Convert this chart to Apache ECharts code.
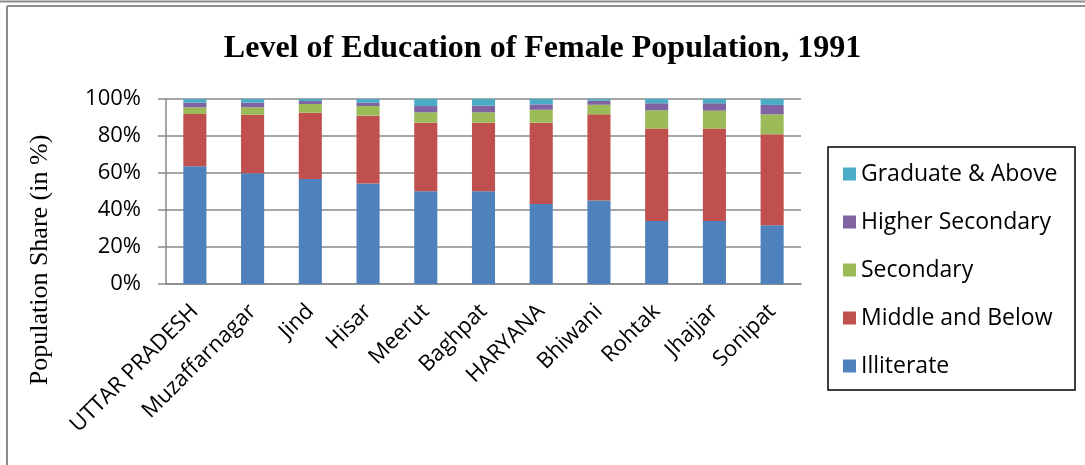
<!DOCTYPE html>
<html>
<head>
<meta charset="utf-8">
<script src="https://cdn.jsdelivr.net/npm/echarts@6/dist/echarts.min.js"></script>
<style>
  html, body { margin: 0; padding: 0; background: #fff; }
  #chart { width: 1085px; height: 465px; }
</style>
</head>
<body>
<div id="chart"></div>
<script>
const districts = ['UTTAR PRADESH', 'Muzaffarnagar', 'Jind', 'Hisar', 'Meerut', 'Baghpat', 'HARYANA', 'Bhiwani', 'Rohtak', 'Jhajjar', 'Sonipat'];
const illiterate = [63.7, 59.9, 56.7, 54.3, 50.2, 50.2, 43.3, 45.1, 34.0, 34.0, 31.8];
const middleBelow = [28.2, 31.6, 35.9, 36.7, 37.0, 37.0, 43.9, 46.6, 50.0, 50.0, 49.1];
const secondary = [3.6, 4.0, 4.7, 5.2, 5.6, 5.6, 7.0, 5.2, 9.9, 9.7, 10.8];
const higherSecondary = [2.5, 2.5, 1.6, 1.8, 3.4, 3.6, 2.9, 2.2, 3.8, 4.0, 5.1];
const graduate = [2.0, 2.0, 1.1, 2.0, 3.8, 3.6, 2.9, 0.9, 2.3, 2.3, 3.2];
const yTicks = [0, 20, 40, 60, 80, 100];

const chart = echarts.init(document.getElementById('chart'));

const mkSeries = (name, data, color) => ({
  name: name,
  type: 'bar',
  stack: 'total',
  data: data,
  barWidth: '40%',
  itemStyle: { color: color }
});

chart.setOption({
  animation: false,
  title: {
    text: 'Level of Education of Female Population, 1991',
    left: 'center',
    top: 28,
    textStyle: { fontFamily: 'Liberation Serif', fontWeight: 'bold', fontSize: 32, color: '#000' }
  },
  grid: { left: 166, right: 284, top: 99, bottom: 181 },
  legend: {
    orient: 'vertical',
    left: 828,
    top: 147,
    padding: [14, 15, 13, 15],
    itemWidth: 13,
    itemHeight: 13,
    itemGap: 22,
    icon: 'rect',
    data: ['Graduate & Above', 'Higher Secondary', 'Secondary', 'Middle and Below', 'Illiterate'],
    textStyle: { fontFamily: 'Open Sans', fontSize: 23, color: '#000', lineHeight: 26 }
  },
  xAxis: {
    type: 'category',
    data: districts,
    axisLine: { lineStyle: { color: '#888', width: 1.5 } },
    axisTick: { length: 8, lineStyle: { color: '#888', width: 1.5 } },
    axisLabel: { rotate: 45, margin: 24, fontFamily: 'Open Sans', fontSize: 22, color: '#000' }
  },
  yAxis: {
    type: 'value',
    min: yTicks[0],
    max: yTicks[yTicks.length - 1],
    interval: 20,
    axisLine: { show: true, lineStyle: { color: '#888', width: 1.5 } },
    axisTick: { show: true, length: 8, lineStyle: { color: '#888', width: 1.5 } },
    splitLine: { lineStyle: { color: '#888', width: 1.5 } },
    axisLabel: { formatter: '{value}%', margin: 25, fontFamily: 'Open Sans', fontSize: 22, color: '#000' }
  },
  graphic: [
    { type: 'line', shape: { x1: 0, y1: 1.5, x2: 1085, y2: 1.5 }, style: { stroke: '#8c8c8c', lineWidth: 2 } },
    { type: 'line', shape: { x1: 7, y1: 6, x2: 1085, y2: 6 }, style: { stroke: '#8c8c8c', lineWidth: 2 } },
    { type: 'line', shape: { x1: 7, y1: 6, x2: 7, y2: 465 }, style: { stroke: '#8c8c8c', lineWidth: 2 } },
    { type: 'rect', shape: { x: 828, y: 147, width: 247, height: 243 }, style: { fill: 'none', stroke: '#000', lineWidth: 1.5 } },
    {
      type: 'text',
      x: 40, y: 260,
      rotation: Math.PI / 2,
      style: {
        text: 'Population Share (in %)',
        fontFamily: 'Liberation Serif', fontSize: 26, fill: '#000',
        align: 'center', verticalAlign: 'middle'
      }
    }
  ],
  series: [
    mkSeries('Illiterate', illiterate, '#4f81bd'),
    mkSeries('Middle and Below', middleBelow, '#c0504d'),
    mkSeries('Secondary', secondary, '#9bbb59'),
    mkSeries('Higher Secondary', higherSecondary, '#8064a2'),
    mkSeries('Graduate & Above', graduate, '#4bacc6')
  ]
});
</script>
</body>
</html>
